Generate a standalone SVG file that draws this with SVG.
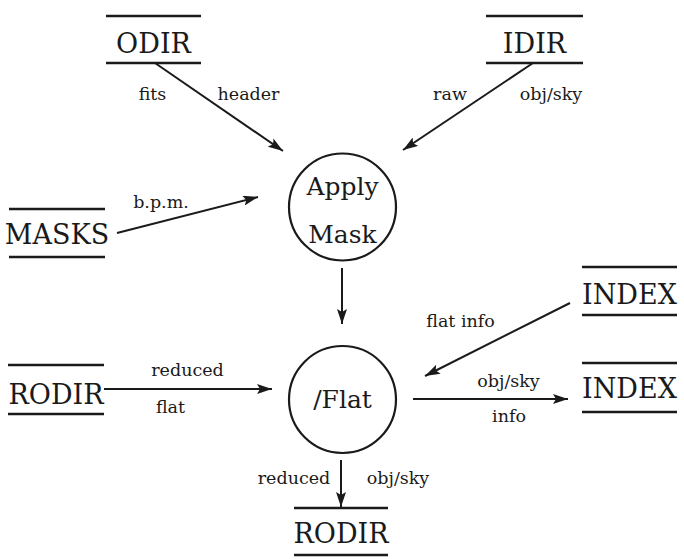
<svg xmlns="http://www.w3.org/2000/svg" width="684" height="559" viewBox="0 0 684 559">
<style>
.store line{stroke:#1a1a1a;stroke-width:2.4}
.st{font-family:"DejaVu Serif","Liberation Serif",serif;font-size:27px;fill:#1a1a1a;text-anchor:middle}
.pr{font-family:"DejaVu Serif","Liberation Serif",serif;font-size:25px;fill:#1a1a1a;text-anchor:middle}
.lb{font-family:"DejaVu Serif","Liberation Serif",serif;font-size:17.5px;fill:#1a1a1a;text-anchor:middle}
.proc circle{fill:none;stroke:#1a1a1a;stroke-width:2.2}
.conn line{stroke:#1a1a1a;stroke-width:2;marker-end:url(#ah)}
</style>
<defs>
<marker id="ah" markerUnits="userSpaceOnUse" markerWidth="16" markerHeight="10" refX="15" refY="5" orient="auto">
<path d="M0,0 L15,5 L0,10 L3,5 z" fill="#1a1a1a"/>
</marker>
</defs>
<rect width="684" height="559" fill="#fff"/>
<g id="odir" class="store"><line x1="106" y1="16" x2="201" y2="16"/><line x1="106" y1="63" x2="201" y2="63"/><text class="st" x="153.5" y="53">ODIR</text></g>
<g id="idir" class="store"><line x1="486" y1="16" x2="583" y2="16"/><line x1="486" y1="63" x2="583" y2="63"/><text class="st" x="534.5" y="53">IDIR</text></g>
<g id="masks" class="store"><line x1="9" y1="209" x2="105" y2="209"/><line x1="9" y1="257" x2="105" y2="257"/><text class="st" x="57" y="244">MASKS</text></g>
<g id="rodir-in" class="store"><line x1="8" y1="365" x2="104" y2="365"/><line x1="8" y1="414" x2="104" y2="414"/><text class="st" x="56" y="404">RODIR</text></g>
<g id="index-in" class="store"><line x1="582" y1="267" x2="677" y2="267"/><line x1="582" y1="315" x2="677" y2="315"/><text class="st" x="629.5" y="304">INDEX</text></g>
<g id="index-out" class="store"><line x1="582" y1="363" x2="677" y2="363"/><line x1="582" y1="412" x2="677" y2="412"/><text class="st" x="629.5" y="398">INDEX</text></g>
<g id="rodir-out" class="store"><line x1="294" y1="508" x2="388" y2="508"/><line x1="294" y1="555" x2="388" y2="555"/><text class="st" x="341" y="543">RODIR</text></g>
<g id="apply-mask" class="proc"><circle cx="342.5" cy="207" r="53.5"/><text class="pr" x="342.5" y="195">Apply</text><text class="pr" x="342.5" y="243">Mask</text></g>
<g id="flat" class="proc"><circle cx="342.5" cy="399.5" r="53.5"/><text class="pr" x="342.5" y="408">/Flat</text></g>
<g id="connectors" class="conn">
<line x1="155" y1="63" x2="283" y2="151"/>
<line x1="533" y1="63" x2="403" y2="150"/>
<line x1="117" y1="233" x2="258" y2="197"/>
<line x1="342" y1="268" x2="342" y2="324"/>
<line x1="104" y1="389" x2="272" y2="389"/>
<line x1="570" y1="303" x2="425" y2="376"/>
<line x1="413" y1="399" x2="568" y2="399"/>
<line x1="341" y1="460" x2="341" y2="507"/>
</g>
<g id="labels">
<text class="lb" x="152.5" y="100">fits</text>
<text class="lb" x="248.5" y="100">header</text>
<text class="lb" x="450" y="100">raw</text>
<text class="lb" x="551" y="100">obj/sky</text>
<text class="lb" x="161" y="208">b.p.m.</text>
<text class="lb" x="187.5" y="376">reduced</text>
<text class="lb" x="170.5" y="413">flat</text>
<text class="lb" x="460.5" y="327">flat info</text>
<text class="lb" x="508.5" y="387">obj/sky</text>
<text class="lb" x="509" y="422">info</text>
<text class="lb" x="294" y="484">reduced</text>
<text class="lb" x="398" y="484">obj/sky</text>
</g>
</svg>
